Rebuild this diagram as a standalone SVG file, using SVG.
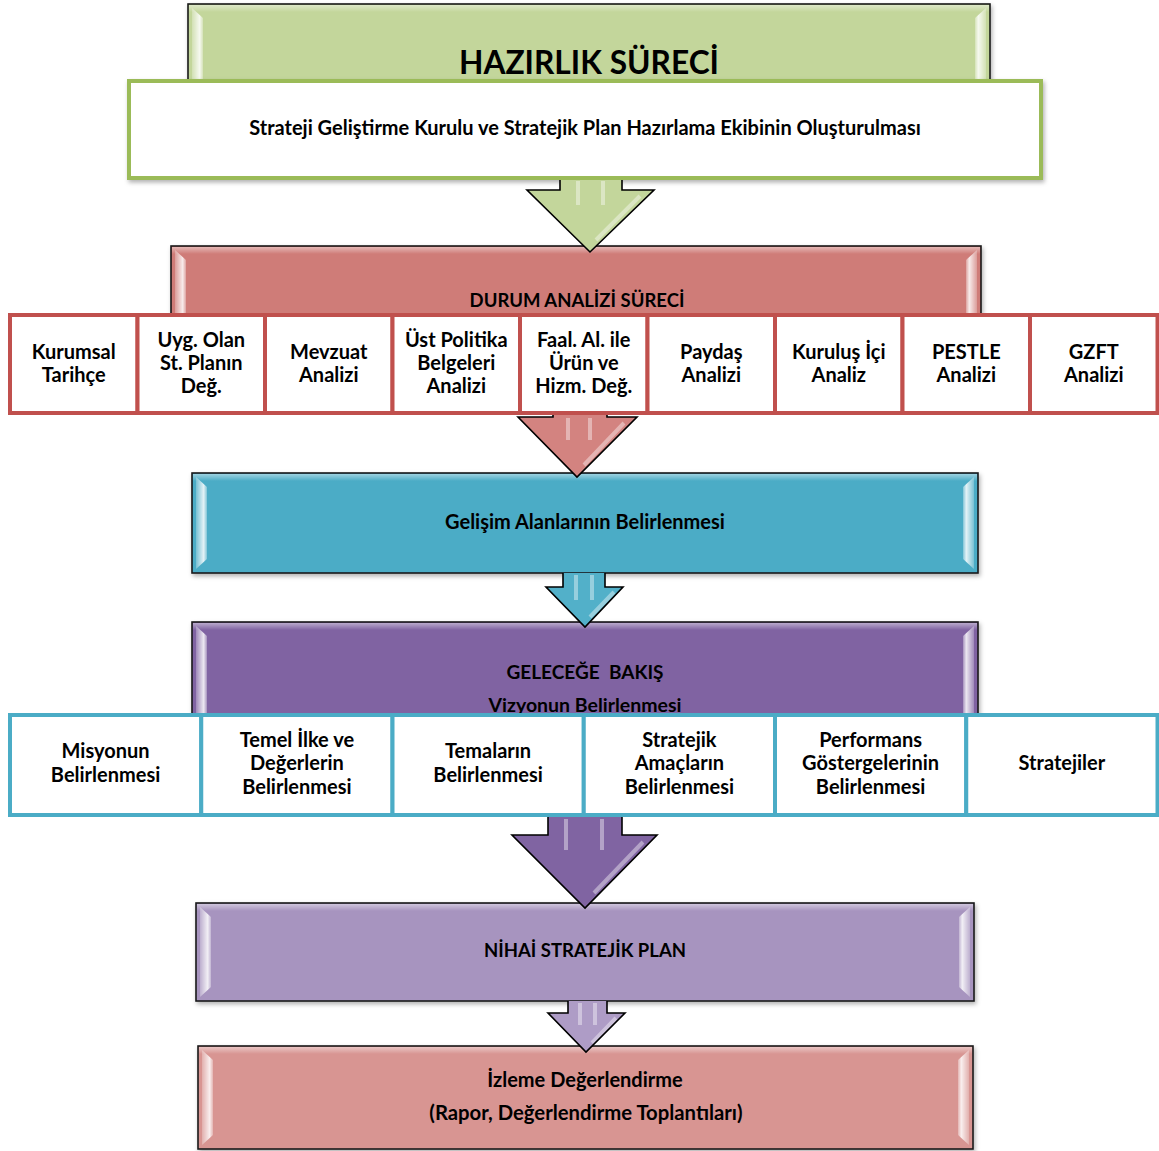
<svg xmlns="http://www.w3.org/2000/svg" width="1159" height="1151" viewBox="0 0 1159 1151">
<style>
  .t{font-family:"Lato","Liberation Sans",sans-serif;font-weight:700;fill:#000;text-anchor:middle;white-space:pre}
  .lbl{font-size:20px}
  .pnl{stroke:#1a1a1a;stroke-width:1.6}
  .redbox{fill:#fff;stroke:#C0504D;stroke-width:4}
  .tealbox{fill:#fff;stroke:#4BACC6;stroke-width:4}
  .arr{stroke:#000;stroke-width:1.6;fill:none;stroke-linejoin:miter}
  .hl{stroke:#fff;stroke-opacity:0.4;stroke-width:4;fill:none}
</style>
<defs>
  <filter id="sh" x="-5%" y="-10%" width="110%" height="130%">
    <feDropShadow dx="1.5" dy="2.5" stdDeviation="2" flood-color="#000" flood-opacity="0.3"/>
  </filter>
  <linearGradient id="topSheen" x1="0" y1="0" x2="0" y2="1">
    <stop offset="0" stop-color="#fff" stop-opacity="0.45"/>
    <stop offset="1" stop-color="#fff" stop-opacity="0"/>
  </linearGradient>
  <linearGradient id="leftHl" x1="0" y1="0" x2="1" y2="0">
    <stop offset="0" stop-color="#fff" stop-opacity="0.25"/>
    <stop offset="0.7" stop-color="#fff" stop-opacity="0.85"/>
    <stop offset="1" stop-color="#fff" stop-opacity="0.3"/>
  </linearGradient>
  <linearGradient id="rightHl" x1="1" y1="0" x2="0" y2="0">
    <stop offset="0" stop-color="#fff" stop-opacity="0.25"/>
    <stop offset="0.7" stop-color="#fff" stop-opacity="0.85"/>
    <stop offset="1" stop-color="#fff" stop-opacity="0.3"/>
  </linearGradient>
</defs>
<rect width="1159" height="1151" fill="#fff"/>

<!-- HAZIRLIK panel -->
<g id="hazirlik">
  <rect class="pnl" x="188" y="4" width="802" height="110" fill="#C3D69B" filter="url(#sh)"/>
  <rect x="189" y="5" width="800" height="7" fill="url(#topSheen)"/>
  <polygon points="192,8 203,18 203,112 192,112" fill="url(#leftHl)"/>
  <polygon points="986,8 975,18 975,112 986,112" fill="url(#rightHl)"/>
  <text class="t" x="589" y="74" font-size="31.7">HAZIRLIK SÜRECİ</text>
</g>
<g id="kurul">
  <rect x="129" y="81" width="912" height="97" fill="#fff" stroke="#9BBB59" stroke-width="4" filter="url(#sh)"/>
  <text class="t" x="585" y="135" font-size="20">Strateji Geliştirme Kurulu ve Stratejik Plan Hazırlama Ekibinin Oluşturulması</text>
</g>

<!-- DURUM panel -->
<g id="durum">
  <rect class="pnl" x="171" y="246" width="810" height="110" fill="#CF7B78" filter="url(#sh)"/>
  <rect x="172" y="247" width="808" height="7" fill="url(#topSheen)"/>
  <polygon points="175,250 186,260 186,354 175,354" fill="url(#leftHl)"/>
  <polygon points="977,250 966,260 966,354 977,354" fill="url(#rightHl)"/>
  <text class="t" x="577" y="307" font-size="18.5">DURUM ANALİZİ SÜRECİ</text>
</g>

<!-- GELECEĞE panel (text drawn under boxes) -->
<g id="gelecege">
  <rect class="pnl" x="192" y="622" width="786" height="180" fill="#8064A2" filter="url(#sh)"/>
  <rect x="193" y="623" width="784" height="7" fill="url(#topSheen)"/>
  <polygon points="196,626 207,636 207,800 196,800" fill="url(#leftHl)"/>
  <polygon points="974,626 963,636 963,800 974,800" fill="url(#rightHl)"/>
  <text class="t" x="585" y="679" font-size="19">GELECEĞE  BAKIŞ</text>
  <text class="t" x="585" y="712" font-size="19.5">Vizyonun Belirlenmesi</text>
</g>

<!-- Gelisim panel -->
<g id="gelisim">
  <rect class="pnl" x="192" y="473" width="786" height="100" fill="#4BACC6" filter="url(#sh)"/>
  <rect x="193" y="474" width="784" height="7" fill="url(#topSheen)"/>
  <polygon points="196,477 207,487 207,559 196,569" fill="url(#leftHl)"/>
  <polygon points="974,477 963,487 963,559 974,569" fill="url(#rightHl)"/>
  <text class="t" x="585" y="529" font-size="20">Gelişim Alanlarının Belirlenmesi</text>
</g>

<!-- NIHAI panel -->
<g id="nihai">
  <rect class="pnl" x="196" y="903" width="778" height="98" fill="#A794BF" filter="url(#sh)"/>
  <rect x="197" y="904" width="776" height="7" fill="url(#topSheen)"/>
  <polygon points="200,907 211,917 211,987 200,997" fill="url(#leftHl)"/>
  <polygon points="970,907 959,917 959,987 970,997" fill="url(#rightHl)"/>
  <text class="t" x="585" y="957" font-size="18.5">NİHAİ STRATEJİK PLAN</text>
</g>

<!-- Izleme panel -->
<g id="izleme">
  <rect class="pnl" x="198" y="1046" width="775" height="103" fill="#D89592" filter="url(#sh)"/>
  <rect x="199" y="1047" width="773" height="7" fill="url(#topSheen)"/>
  <polygon points="202,1050 213,1060 213,1135 202,1145" fill="url(#leftHl)"/>
  <polygon points="969,1050 958,1060 958,1135 969,1145" fill="url(#rightHl)"/>
  <text class="t" x="585" y="1087" font-size="20">İzleme Değerlendirme</text>
  <text class="t" x="586" y="1120" font-size="20.3">(Rapor, Değerlendirme Toplantıları)</text>
</g>

<!-- Durum analizi boxes -->
<g id="b1"><rect class="redbox" x="10" y="315" width="127.5" height="98"/>
  <text class="t lbl"><tspan x="73.8" y="359">Kurumsal</tspan><tspan x="73.8" y="382">Tarihçe</tspan></text></g>
<g id="b2"><rect class="redbox" x="137.5" y="315" width="127.5" height="98"/>
  <text class="t lbl"><tspan x="201.3" y="347">Uyg. Olan</tspan><tspan x="201.3" y="370">St. Planın</tspan><tspan x="201.3" y="393">Değ.</tspan></text></g>
<g id="b3"><rect class="redbox" x="265" y="315" width="127.5" height="98"/>
  <text class="t lbl"><tspan x="328.8" y="359">Mevzuat</tspan><tspan x="328.8" y="382">Analizi</tspan></text></g>
<g id="b4"><rect class="redbox" x="392.5" y="315" width="127.5" height="98"/>
  <text class="t lbl"><tspan x="456.3" y="347">Üst Politika</tspan><tspan x="456.3" y="370">Belgeleri</tspan><tspan x="456.3" y="393">Analizi</tspan></text></g>
<g id="b5"><rect class="redbox" x="520" y="315" width="127.5" height="98"/>
  <text class="t lbl"><tspan x="583.8" y="347">Faal. Al. ile</tspan><tspan x="583.8" y="370">Ürün ve</tspan><tspan x="583.8" y="393">Hizm. Değ.</tspan></text></g>
<g id="b6"><rect class="redbox" x="647.5" y="315" width="127.5" height="98"/>
  <text class="t lbl"><tspan x="711.3" y="359">Paydaş</tspan><tspan x="711.3" y="382">Analizi</tspan></text></g>
<g id="b7"><rect class="redbox" x="775" y="315" width="127.5" height="98"/>
  <text class="t lbl"><tspan x="838.8" y="359">Kuruluş İçi</tspan><tspan x="838.8" y="382">Analiz</tspan></text></g>
<g id="b8"><rect class="redbox" x="902.5" y="315" width="127.5" height="98"/>
  <text class="t lbl"><tspan x="966.3" y="359">PESTLE</tspan><tspan x="966.3" y="382">Analizi</tspan></text></g>
<g id="b9"><rect class="redbox" x="1030" y="315" width="127.5" height="98"/>
  <text class="t lbl"><tspan x="1093.8" y="359">GZFT</tspan><tspan x="1093.8" y="382">Analizi</tspan></text></g>

<!-- Gelecege boxes -->
<g id="c1"><rect class="tealbox" x="10" y="715" width="191.25" height="100"/>
  <text class="t lbl"><tspan x="105.6" y="758">Misyonun</tspan><tspan x="105.6" y="782">Belirlenmesi</tspan></text></g>
<g id="c2"><rect class="tealbox" x="201.25" y="715" width="191.25" height="100"/>
  <text class="t lbl"><tspan x="296.9" y="747">Temel İlke ve</tspan><tspan x="296.9" y="770">Değerlerin</tspan><tspan x="296.9" y="794">Belirlenmesi</tspan></text></g>
<g id="c3"><rect class="tealbox" x="392.5" y="715" width="191.25" height="100"/>
  <text class="t lbl"><tspan x="488.1" y="758">Temaların</tspan><tspan x="488.1" y="782">Belirlenmesi</tspan></text></g>
<g id="c4"><rect class="tealbox" x="583.75" y="715" width="191.25" height="100"/>
  <text class="t lbl"><tspan x="679.4" y="747">Stratejik</tspan><tspan x="679.4" y="770">Amaçların</tspan><tspan x="679.4" y="794">Belirlenmesi</tspan></text></g>
<g id="c5"><rect class="tealbox" x="775" y="715" width="191.25" height="100"/>
  <text class="t lbl"><tspan x="870.6" y="747">Performans</tspan><tspan x="870.6" y="770">Göstergelerinin</tspan><tspan x="870.6" y="794">Belirlenmesi</tspan></text></g>
<g id="c6"><rect class="tealbox" x="966.25" y="715" width="191.25" height="100"/>
  <text class="t lbl"><tspan x="1061.9" y="770">Stratejiler</tspan></text></g>

<!-- Connectors: block arrows -->
<g id="connectors">
  <g id="a1">
    <polygon points="560,180 622,180 622,190 654,190 590,252 527,190 560,190" fill="#C3D69B"/>
    <path class="hl" d="M578,181 V205 M603,181 V205 M640,196 L596,240"/>
    <path class="arr" d="M560,180 V190 H527 L590,252 L654,190 H622 V180"/>
  </g>
  <g id="a2">
    <polygon points="553,415 607,415 607,417 637,417 577,477 518,417 553,417" fill="#D38380"/>
    <path class="hl" d="M568,418 V440 M590,418 V440 M624,423 L584,465"/>
    <path class="arr" d="M553,415 V417 H518 L577,477 L637,417 H607 V415"/>
  </g>
  <g id="a3">
    <polygon points="563,573 605,573 605,587 623,587 585,627 546,587 563,587" fill="#52B0C9"/>
    <path class="hl" d="M576,575 V600 M592,575 V600 M614,592 L590,617"/>
    <path class="arr" d="M563,573 V587 H546 L585,627 L623,587 H605 V573"/>
  </g>
  <g id="a4">
    <polygon points="548,817 622,817 622,835 657,835 585,908 512,835 548,835" fill="#8064A2"/>
    <path class="hl" d="M566,819 V850 M602,819 V850 M643,842 L594,893"/>
    <path class="arr" d="M548,817 V835 H512 L585,908 L657,835 H622 V817"/>
  </g>
  <g id="a5">
    <polygon points="568,1001 607,1001 607,1013 625,1013 586,1052 548,1013 568,1013" fill="#AE9CC6"/>
    <path class="hl" d="M580,1003 V1025 M595,1003 V1025 M616,1018 L592,1043"/>
    <path class="arr" d="M568,1001 V1013 H548 L586,1052 L625,1013 H607 V1001"/>
  </g>
</g>
</svg>
